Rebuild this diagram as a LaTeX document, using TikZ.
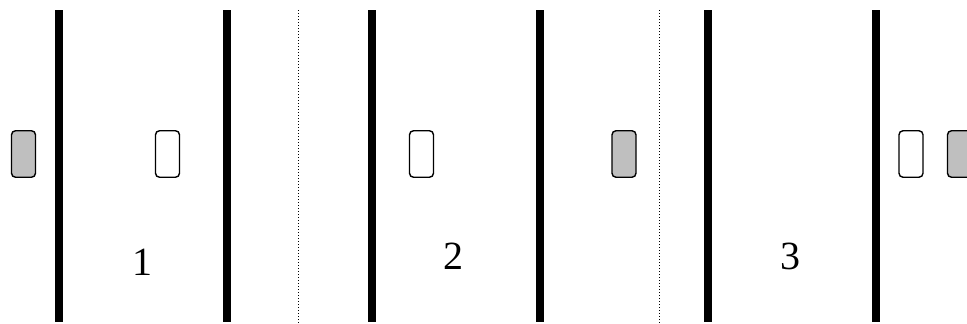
\documentclass[tikz,border=0pt]{standalone}
\usepackage{fontspec}
\setmainfont{Liberation Serif}
\usetikzlibrary{positioning}

\begin{document}
\begin{tikzpicture}[
  x=1pt, y=-1pt,
  wall/.style={line width=8pt},
  divider/.style={line width=1pt, dash pattern=on 1pt off 2pt},
  card/.style={draw, rounded corners=4pt, line width=1.4pt,
    minimum width=24pt, minimum height=46.5pt, inner sep=0pt},
  full/.style={card, fill=black!25},
  empty/.style={card, fill=white},
  num/.style={font=\fontsize{40}{48}\selectfont, inner sep=0pt}
]
\useasboundingbox (0,0) rectangle (967,324);
% walls and dividers
\foreach \x in {59,227,372,540,707.5,876}
  \draw[wall] (\x,10) -- (\x,322);
\foreach \x in {298.5,659.5}
  \draw[divider] (\x,10) -- (\x,324);
% cards
\node[full]  (g1) at (23.5,154) {};
\node[empty] (w1) at (167.5,154) {};
\node[empty] (w2) at (421.5,154) {};
\node[full]  (g2) at (624,154) {};
\node[empty] (w3) at (911,154) {};
\node[full]  (g3) at (959.5,154) {};
% cell numbers
\node[num] (n1) at (142,262) {1};
\node[num] (n2) at (453,256.5) {2};
\node[num] (n3) at (790,256.5) {3};
\end{tikzpicture}
\end{document}
